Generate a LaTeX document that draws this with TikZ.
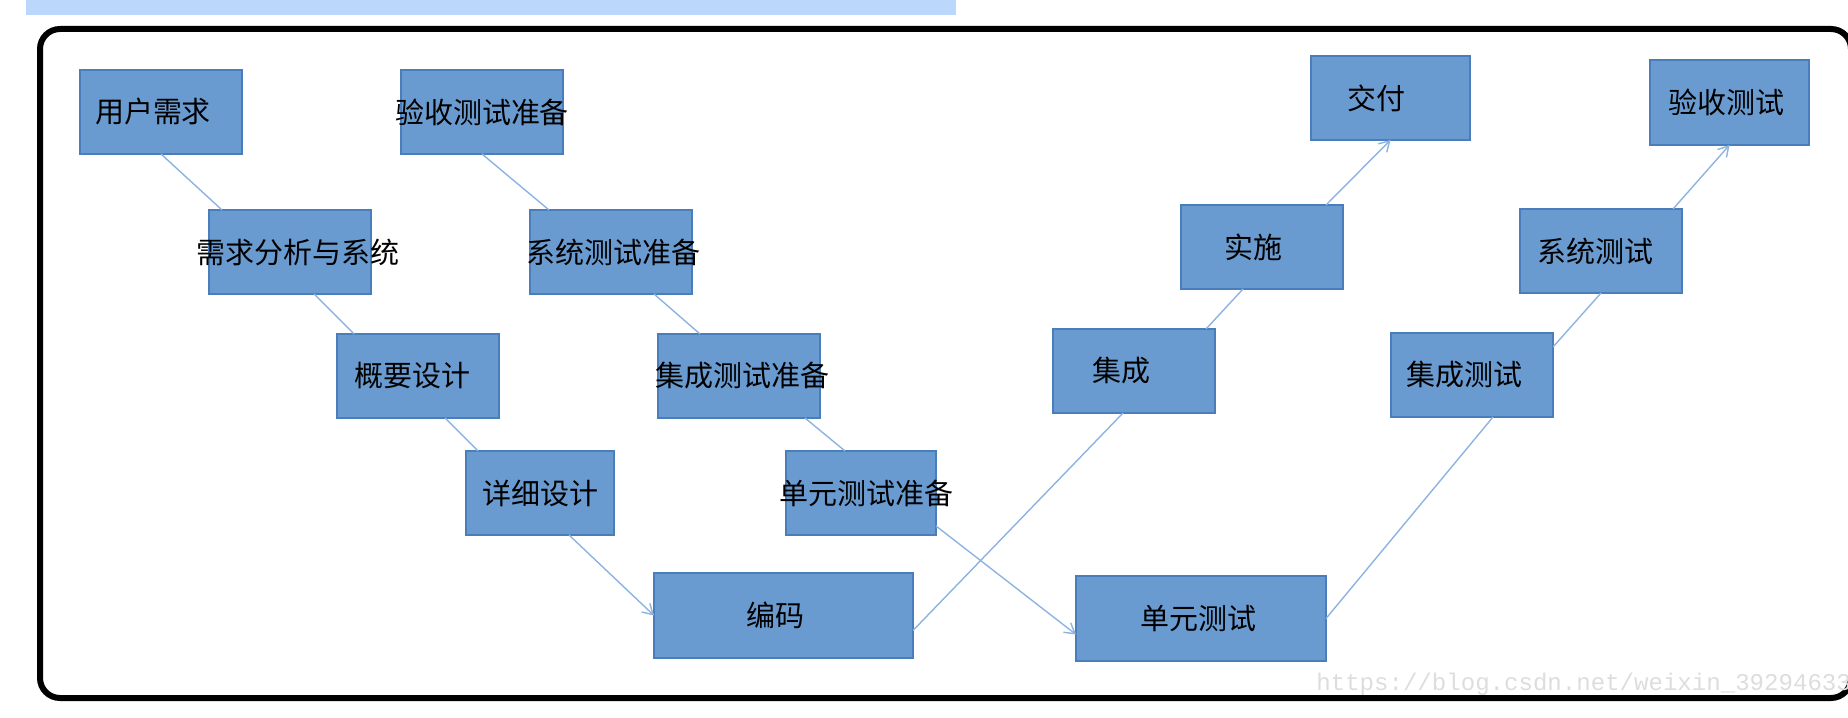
\documentclass[tikz,border=0pt]{standalone}
\usepackage{fontspec}
\usepackage{xcolor}
\usepackage{tikz}
\usetikzlibrary{arrows.meta, positioning}

\setmainfont{Noto Sans CJK SC}
\newfontfamily\markfont{Liberation Mono}

\definecolor{boxblue}{RGB}{106,155,208}
\definecolor{boxedge}{RGB}{74,126,187}
\definecolor{linkblue}{RGB}{141,179,226}
\definecolor{bandblue}{RGB}{187,215,251}
\definecolor{markgray}{RGB}{221,221,221}

\begin{document}
\begin{tikzpicture}[
    every node/.style={font=\fontsize{16.5}{18}\selectfont},
    box/.style={rectangle, draw=boxedge, fill=boxblue, line width=0.8pt, inner sep=0pt, outer sep=0pt, minimum width=3.24cm, minimum height=1.68cm},
    txt/.style={inner sep=0pt, text=black},
    link/.style={draw=linkblue, line width=0.8pt},
    arrow/.style={link, -{Straight Barb[length=2mm, width=2.4mm]}}
]
    \useasboundingbox (0,0) rectangle (36.96,-14.36);

    % Screenshot band and outer frame
    \fill[bandblue] (0.52,0) rectangle (19.12,-0.3);
    \draw[line width=0.12cm, rounded corners=0.4cm] (0.8,-0.58) rectangle (37.02,-13.96);

    % Left branch: development
    \node[box, anchor=north west, label={[txt, xshift=-0.16cm]center:用户需求}] (req) at (1.6,-1.4) {};
    \node[box, below right=1.12cm and -0.66cm of req, label={[txt, xshift=0.16cm]center:需求分析与系统}] (reqana) {};
    \node[box, below right=0.8cm and -0.68cm of reqana, label={[txt, xshift=-0.12cm]center:概要设计}] (outline) {};
    \node[box, below right=0.66cm and -0.66cm of outline, minimum width=2.96cm, label={[txt]center:详细设计}] (detail) {};
    \node[box, below right=0.76cm and 0.8cm of detail, minimum width=5.18cm, minimum height=1.7cm, label={[txt, xshift=-0.16cm]center:编码}] (code) {};

    % Test preparation branch
    \node[box, right=3.18cm of req, label={[txt]center:验收测试准备}] (acceptprep) {};
    \node[box, below right=1.12cm and -0.66cm of acceptprep, label={[txt, xshift=0.04cm]center:系统测试准备}] (sysprep) {};
    \node[box, below right=0.8cm and -0.68cm of sysprep, label={[txt, xshift=0.06cm]center:集成测试准备}] (intprep) {};
    \node[box, below right=0.66cm and -0.68cm of intprep, minimum width=3.0cm, label={[txt, xshift=0.1cm]center:单元测试准备}] (unitprep) {};
    \node[box, below right=0.82cm and 2.8cm of unitprep, minimum width=5.0cm, minimum height=1.7cm, label={[txt, xshift=-0.06cm]center:单元测试}] (unittest) {};

    % Right branches: delivery and testing
    \node[box, above right=3.2cm and 2.8cm of code, label={[txt, xshift=-0.26cm]center:集成}] (integ) {};
    \node[box, above right=0.8cm and -0.68cm of integ, label={[txt, xshift=-0.18cm]center:实施}] (impl) {};
    \node[box, above right=1.3cm and -0.64cm of impl, minimum width=3.18cm, label={[txt, xshift=-0.28cm]center:交付}] (deliver) {};
    \node[box, above right=3.18cm and 1.3cm of unittest, label={[txt, xshift=-0.16cm]center:集成测试}] (inttest) {};
    \node[box, above right=0.8cm and -0.66cm of inttest, label={[txt, xshift=-0.12cm]center:系统测试}] (systest) {};
    \node[box, above right=1.28cm and -0.64cm of systest, minimum width=3.18cm, minimum height=1.7cm, label={[txt, xshift=-0.06cm]center:验收测试}] (accept) {};

    % Watermark
    \node[anchor=base west, inner sep=0pt, text=markgray, font=\markfont\fontsize{13.7}{15}\selectfont] (watermark) at (26.32,-13.8) {https://blog.csdn.net/weixin\_39294633};

    % Connectors
    \draw[link] (req.south) -- ([xshift=0.26cm]reqana.north west);
    \draw[link] (acceptprep.south) -- ([xshift=0.38cm]sysprep.north west);
    \draw[link] ([xshift=0.48cm]reqana.south) -- ([xshift=0.34cm]outline.north west);
    \draw[link] ([xshift=0.86cm]sysprep.south) -- ([xshift=0.84cm]intprep.north west);
    \draw[link] ([xshift=0.54cm]outline.south) -- ([xshift=0.24cm]detail.north west);
    \draw[link] ([xshift=1.32cm]intprep.south) -- ([xshift=1.18cm]unitprep.north west);
    \draw[arrow] ([xshift=0.58cm]detail.south) -- (code.west);
    \draw[arrow] ([yshift=0.18cm]unitprep.south east) -- ([yshift=-0.32cm]unittest.west);
    \draw[link] ([yshift=-0.3cm]code.east) -- ([xshift=-0.22cm]integ.south);
    \draw[link] ([xshift=-0.18cm]integ.north east) -- ([xshift=-0.38cm]impl.south);
    \draw[arrow] ([xshift=-0.34cm]impl.north east) -- (deliver.south);
    \draw[link] (unittest.east) -- ([xshift=0.42cm]inttest.south);
    \draw[link] ([yshift=-0.28cm]inttest.north east) -- (systest.south);
    \draw[arrow] ([xshift=-0.18cm]systest.north east) -- (accept.south);
\end{tikzpicture}
\end{document}
